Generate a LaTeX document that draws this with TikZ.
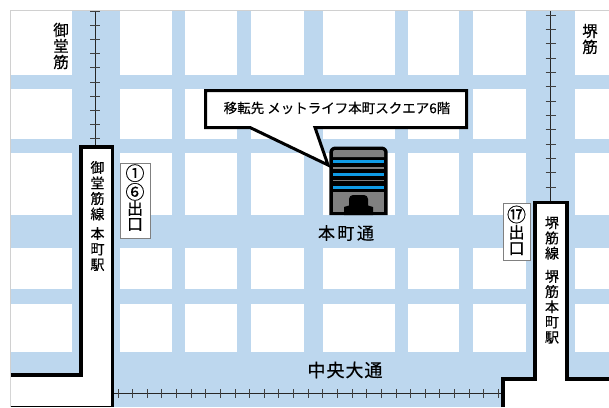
\documentclass[tikz,border=0pt]{standalone}
\usepackage{fontspec}
\setmainfont[FakeBold=0.35]{Noto Sans CJK JP}
\definecolor{road}{HTML}{BDD7EE}
\definecolor{frameline}{HTML}{D0D0D0}
\definecolor{bldgray}{HTML}{808080}
\definecolor{bldblue}{HTML}{0F9BE6}
\tikzset{
  block/.style={fill=white,draw=none},
  wall/.style={draw=black,line width=3.8pt,line join=miter},
  track/.style={draw=black!85,line width=1pt},
  tick/.style={draw=black!75,line width=0.9pt},
  vlabel/.style={inner sep=0pt,align=center,text=black},
  exitbox/.style={draw=bldgray,fill=white,line width=1pt},
}
\begin{document}
\begin{tikzpicture}[x=1pt,y=-1pt]
\useasboundingbox (0,0) rectangle (609,407);
\fill[white] (0,0) rectangle (609,407);
% roads
\fill[road] (10.5,10.5) rectangle (609,407);
% blocks
\foreach \xa/\xb in {10.5/72,120/172,185/237,251/304,323/395,408/459,473/526,575/609}
  \foreach \ya/\yb in {11/75,89/139,153/215,248/289,304/352}
    \fill[block] (\xa,\ya) rectangle (\xb,\yb);
\draw[frameline,line width=1pt] (10.3,407) -- (10.3,10.3) -- (609,10.3);
% tracks
\draw[track] (95,11) -- (95,147);
\foreach \k in {0,...,9} \draw[tick] (90,11+14.2*\k) -- (100,11+14.2*\k);
\draw[track] (550.7,11) -- (550.7,202);
\foreach \k in {0,...,12} \draw[tick] (545.7,15+14.33*\k) -- (555.7,15+14.33*\k);
\draw[track] (114,393) -- (502,393);
\foreach \k in {0,...,26} \draw[tick] (118+14.63*\k,389) -- (118+14.63*\k,397.5);
% left station
\fill[white] (10.8,375) -- (81,375) -- (81,147) -- (112.5,147) -- (112.5,407) -- (10.8,407) -- cycle;
\draw[wall] (10.8,375) -- (81,375) -- (81,147) -- (112.5,147) -- (112.5,407);
\draw[black,line width=1.2pt] (10.8,406.3) -- (112.5,406.3);
% right station
\fill[white] (503,407) -- (503,379) -- (535,379) -- (535,202.5) -- (567,202.5) -- (567,379) -- (609,379) -- (609,407) -- cycle;
\draw[wall] (503,407) -- (503,379) -- (535,379) -- (535,202.5) -- (567,202.5) -- (567,379) -- (609,379);
% building
\fill[black] (329.3,215) -- (329.3,153) [rounded corners=6pt] -- (329.3,146.5) -- (387.7,146.5) [sharp corners] -- (387.7,215) -- cycle;
\fill[bldgray] (333,157) [rounded corners=2pt] -- (333,150) -- (384,150) [sharp corners] -- (384,157) -- cycle;
\fill[bldgray] (333,192) rectangle (384,211.5);
\fill[bldblue] (333,160) rectangle (384,163.3);
\fill[bldblue] (333,172.5) rectangle (384,175.5);
\fill[bldblue] (333,185.5) rectangle (384,188.8);
\fill[bldgray] (333,167) rectangle (384,168.5);
\fill[bldgray] (333,179.5) rectangle (384,181);
\fill[black] (344,215) -- (344,207) -- (349,205.5) [rounded corners=4pt] -- (349,195) -- (368,195) [sharp corners] -- (368,205.5) -- (373,207) -- (373,215) -- cycle;
% callout
\draw[draw=black,fill=white,line width=3pt,line join=miter]
  (205.7,90.7) -- (466.5,90.7) -- (466.5,127.5) -- (315,127.5) -- (328,165) -- (250,127.5) -- (205.7,127.5) -- cycle;
\node[vlabel,font=\fontsize{13.5}{15}\selectfont] (dest) at (337,108) {移転先 メットライフ本町スクエア6階};
% exit boxes
\node[exitbox,minimum width=30pt,minimum height=75pt,inner sep=0pt] (exitA) at (135,200.5) {};
\node[vlabel,font=\fontsize{19}{15.5}\selectfont] (exitAcircles) at (135,182.5) {①\\⑥};
\node[vlabel,font=\fontsize{16}{15.5}\selectfont] (exitAtext) at (135,216) {出\\口};
\node[exitbox,minimum width=27pt,minimum height=57pt,inner sep=0pt] (exitB) at (516.5,231.5) {};
\node[vlabel,font=\fontsize{19}{16}\selectfont] (exitBcircle) at (516.5,214.5) {⑰};
\node[vlabel,font=\fontsize{16}{16}\selectfont] (exitBtext) at (516.5,240) {出\\口};
% labels
\node[vlabel,font=\fontsize{15.5}{16}\selectfont] (midosujiTop) at (61,46) {御\\堂\\筋};
\node[vlabel,font=\fontsize{15.5}{16}\selectfont] (sakaisujiTop) at (590,39) {堺\\筋};
\node[vlabel,font=\fontsize{14}{15.5}\selectfont] (midosujiSta) at (97.5,216) {御\\堂\\筋\\線\\[4pt]本\\町\\駅};
\node[vlabel,font=\fontsize{14}{15.2}\selectfont] (sakaisujiSta) at (552,280) {堺\\筋\\線\\[8pt]堺\\筋\\本\\町\\駅};
\node[vlabel,font=\fontsize{17}{18}\selectfont] (honmachi) at (346,233) {本\hspace{2.5pt}町\hspace{2.5pt}通};
\node[vlabel,font=\fontsize{18}{19}\selectfont] (chuo) at (345,370) {中\hspace{1pt}央\hspace{1pt}大\hspace{1pt}通};
\end{tikzpicture}
\end{document}
